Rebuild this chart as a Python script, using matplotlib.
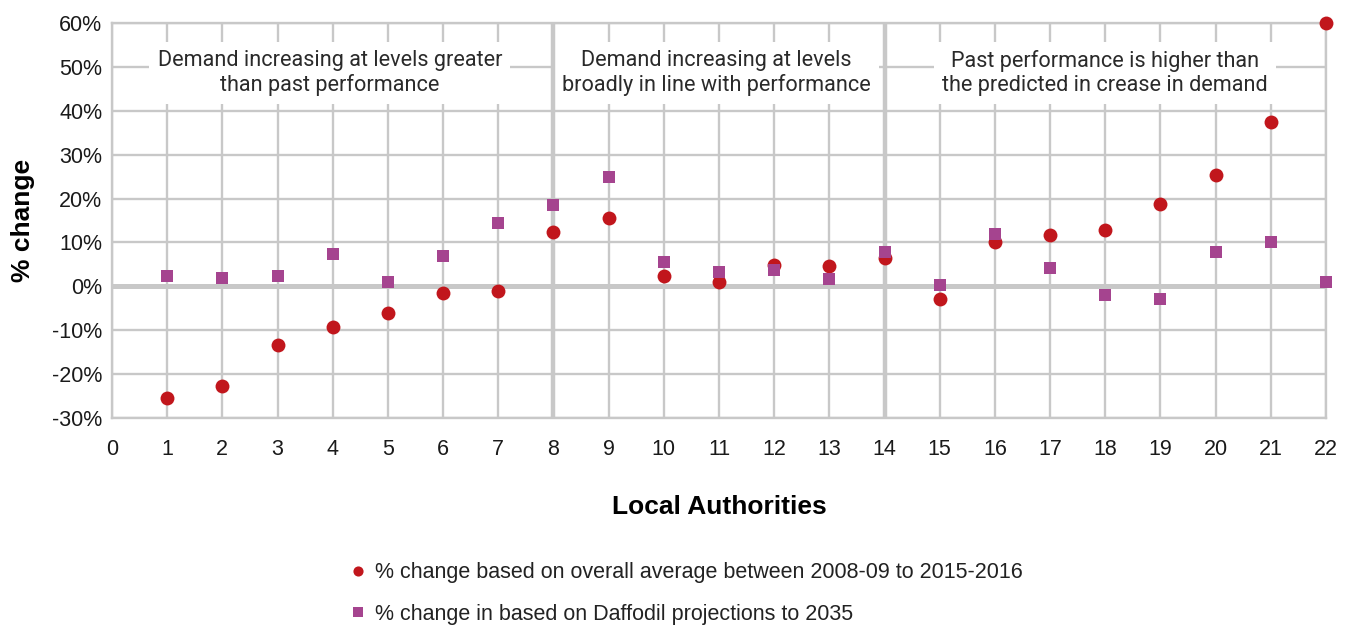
import matplotlib
matplotlib.use("Agg")
import matplotlib.pyplot as plt
from matplotlib.lines import Line2D
from matplotlib.ticker import FuncFormatter, MultipleLocator

# Local authorities (x) and the two % change estimates
authorities = list(range(1, 23))
avg_change = [-25.4, -22.7, -13.3, -9.2, -6.1, -1.6, -1.1, 12.3, 15.6, 2.4, 1.0,
              4.8, 4.7, 6.5, -3.0, 10.1, 11.8, 12.8, 18.7, 25.4, 37.5, 60.0]
daffodil_change = [2.4, 1.9, 2.4, 7.4, 1.1, 6.9, 14.5, 18.6, 25.0, 5.6, 3.2,
                   3.7, 1.7, 7.8, 0.3, 12.0, 4.1, -2.0, -2.9, 7.8, 10.1, 1.1]

avg_label = "% change based on overall average between 2008-09 to 2015-2016"
daffodil_label = "% change in based on Daffodil projections to 2035"

group_bounds = [8, 14]
group_notes = [
    (3.95, "Demand increasing at levels greater\nthan past performance"),
    (10.95, "Demand increasing at levels\nbroadly in line with performance"),
    (18.0, "Past performance is higher than\nthe predicted in crease in demand"),
]

RED = "#C1161C"
PURPLE = "#A5448F"
GRID = "#C8C8C8"

plt.rcParams["font.family"] = ["Liberation Sans", "DejaVu Sans"]

W, H = 1346, 625
fig = plt.figure(figsize=(W / 100, H / 100), dpi=100)
ax = fig.add_axes([112 / W, 1 - 418 / H, (1326 - 112) / W, (418 - 23) / H])

ax.set_xlim(0, 22)
ax.set_ylim(-30, 60)
ax.xaxis.set_major_locator(MultipleLocator(1))
ax.yaxis.set_major_locator(MultipleLocator(10))
ax.yaxis.set_major_formatter(FuncFormatter(lambda v, p: f"{v:.0f}%"))
ax.grid(True, color=GRID, linewidth=1.7)
ax.set_axisbelow(True)
for s in ax.spines.values():
    s.set_color(GRID)
    s.set_linewidth(1.7)
ax.tick_params(length=0, labelsize=15.5, colors="#1a1a1a")
ax.tick_params(axis="y", pad=7)
ax.tick_params(axis="x", pad=15)

# Emphasised zero line and group separators (separators run through the note boxes)
ax.axhline(0, color=GRID, linewidth=3.6, zorder=1.5)
for b in group_bounds:
    ax.axvline(b, color=GRID, linewidth=3.2, zorder=6)

ax.scatter(authorities, avg_change, s=100, marker="o", color=RED,
           linewidths=0, zorder=7, clip_on=False)
ax.scatter(authorities, daffodil_change, s=82, marker="s", color=PURPLE,
           linewidths=0, zorder=8, clip_on=False)

for xc, txt in group_notes:
    ax.text(xc, 48.6, txt, ha="center", va="center", fontsize=15.6,
            family=["Roboto", "DejaVu Sans"], fontweight="normal", color="#2a2a2a",
            linespacing=1.18, zorder=5,
            bbox=dict(boxstyle="square,pad=0.38", facecolor="white",
                      edgecolor="none"))

ax.set_ylabel("% change", fontsize=19, fontweight="bold", labelpad=12)
ax.set_xlabel("Local Authorities", fontsize=19, fontweight="bold", labelpad=25)

handles = [
    Line2D([], [], linestyle="none", marker="o", markersize=7.3,
           markerfacecolor=RED, markeredgewidth=0),
    Line2D([], [], linestyle="none", marker="s", markersize=6.5,
           markerfacecolor=PURPLE, markeredgewidth=0),
]
leg = fig.legend(handles, [avg_label, daffodil_label], loc="upper left",
                 bbox_to_anchor=(328 / W, 1 - 543 / H), frameon=False,
                 fontsize=15.5, handletextpad=0.3, labelspacing=0.95,
                 handlelength=1.0)
for t in leg.get_texts():
    t.set_color("#222222")

fig.savefig("out.png", dpi=100)
